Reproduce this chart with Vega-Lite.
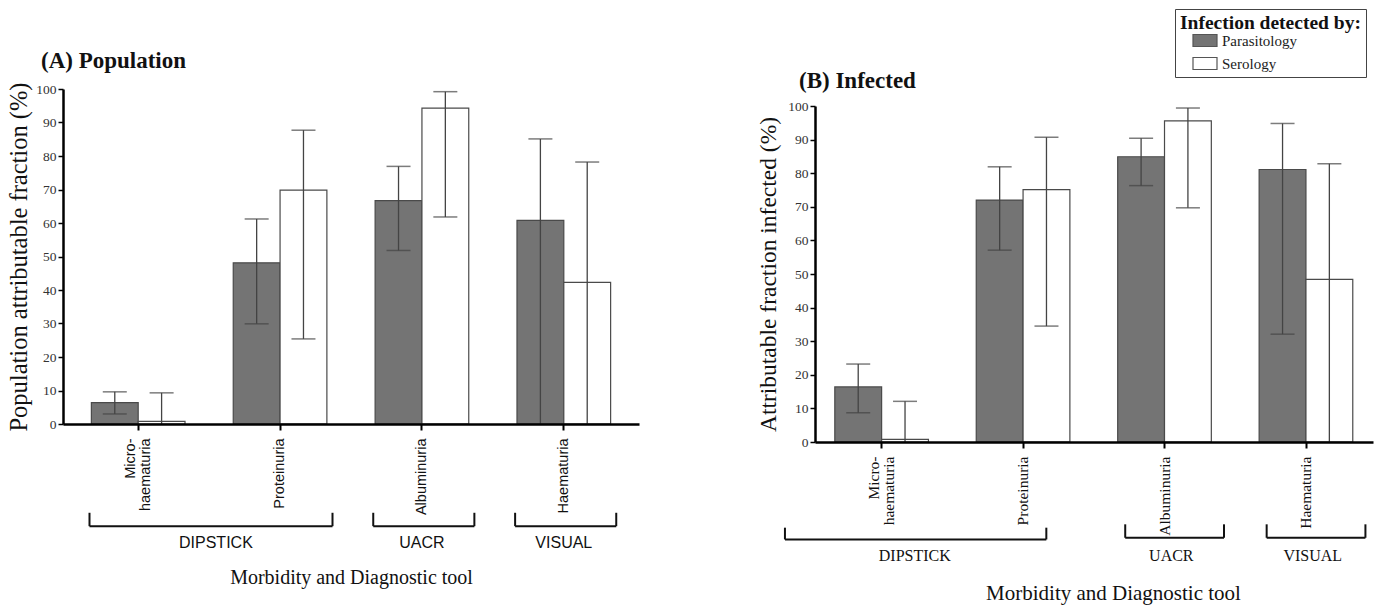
{
  "$schema": "https://vega.github.io/schema/vega-lite/v6.json",
  "padding": {"left": 6, "top": 8, "right": 2, "bottom": 2},
  "background": "white",
  "spacing": 117,
  "datasets": {
    "barsA": [
      {"category": "Micro-haematuria", "method": "Parasitology", "value": 6.4, "lo": 3.0, "hi": 9.6},
      {"category": "Micro-haematuria", "method": "Serology", "value": 0.8, "lo": 0, "hi": 9.3},
      {"category": "Proteinuria", "method": "Parasitology", "value": 48.1, "lo": 29.9, "hi": 61.2},
      {"category": "Proteinuria", "method": "Serology", "value": 69.8, "lo": 25.4, "hi": 87.7},
      {"category": "Albuminuria", "method": "Parasitology", "value": 66.7, "lo": 51.8, "hi": 76.9},
      {"category": "Albuminuria", "method": "Serology", "value": 94.3, "lo": 61.8, "hi": 99.2},
      {"category": "Haematuria", "method": "Parasitology", "value": 60.8, "lo": 0, "hi": 85.1},
      {"category": "Haematuria", "method": "Serology", "value": 42.3, "lo": 0, "hi": 78.2}
    ],
    "barsB": [
      {"category": "Micro-haematuria", "method": "Parasitology", "value": 16.4, "lo": 8.7, "hi": 23.2},
      {"category": "Micro-haematuria", "method": "Serology", "value": 0.8, "lo": 0, "hi": 12.1},
      {"category": "Proteinuria", "method": "Parasitology", "value": 72.0, "lo": 57.1, "hi": 81.9},
      {"category": "Proteinuria", "method": "Serology", "value": 75.1, "lo": 34.5, "hi": 90.7},
      {"category": "Albuminuria", "method": "Parasitology", "value": 84.9, "lo": 76.3, "hi": 90.4},
      {"category": "Albuminuria", "method": "Serology", "value": 95.6, "lo": 69.7, "hi": 99.4},
      {"category": "Haematuria", "method": "Parasitology", "value": 81.1, "lo": 32.1, "hi": 94.8},
      {"category": "Haematuria", "method": "Serology", "value": 48.4, "lo": 0, "hi": 82.8}
    ],
    "groups": [
      {"group": "DIPSTICK", "from": "Micro-haematuria", "to": "Proteinuria"},
      {"group": "UACR", "from": "Albuminuria", "to": "Albuminuria"},
      {"group": "VISUAL", "from": "Haematuria", "to": "Haematuria"}
    ]
  },
  "hconcat": [
    {
      "width": 576,
      "height": 335,
      "title": {"text": "(A) Population", "anchor": "start", "frame": "group", "dx": -22, "offset": 9, "font": "Liberation Serif", "fontSize": 23, "fontWeight": "bold", "color": "#111"},
      "layer": [
        {
          "data": {"name": "barsA"},
          "mark": {"type": "bar", "stroke": "#4a4a4a", "strokeWidth": 1.2},
          "encoding": {
            "x": {"field": "category", "type": "nominal", "scale": {"domain": ["Micro-haematuria", "Proteinuria", "Albuminuria", "Haematuria"], "paddingInner": 0.34, "paddingOuter": 0.2}, "title": "Morbidity and Diagnostic tool",
              "axis": {"labelAngle": -90, "labelFont": "Liberation Sans", "labelFontSize": 14.5, "labelColor": "#111", "labelPadding": 8, "labelLineHeight": 15, "labelBaseline": {"condition": {"test": "datum.value == 'Micro-haematuria'", "value": "bottom"}, "value": "middle"}, "labelExpr": "datum.value == 'Micro-haematuria' ? ['Micro-', 'haematuria'] : datum.value", "tickSize": 6, "tickWidth": 2, "tickColor": "#000", "domainWidth": 2.5, "domainColor": "#000", "titleFont": "Liberation Serif", "titleFontSize": 20, "titleFontWeight": "normal", "titleColor": "#111", "titlePadding": 53, "zindex": 1}},
            "xOffset": {"field": "method", "type": "nominal", "scale": {"paddingInner": 0, "paddingOuter": 0}},
            "y": {"field": "value", "type": "quantitative", "scale": {"domain": [0, 100]}, "title": "Population attributable fraction (%)",
              "axis": {"values": [0, 10, 20, 30, 40, 50, 60, 70, 80, 90, 100], "tickCount": 11, "labelOverlap": false, "grid": false, "tickSize": 5, "tickWidth": 1.5, "tickColor": "#000", "labelFont": "Liberation Serif", "labelFontSize": 13.5, "labelColor": "#333", "labelPadding": 2, "domainWidth": 2.5, "domainColor": "#000", "titleFont": "Liberation Serif", "titleFontSize": 24.5, "titleFontWeight": "normal", "titleColor": "#111", "titlePadding": 4, "zindex": 1}},
            "fill": {"field": "method", "type": "nominal", "scale": {"domain": ["Parasitology", "Serology"], "range": ["#747474", "#ffffff"]}, "title": "Infection detected by:"}
          }
        },
        {
          "data": {"name": "barsA"},
          "mark": {"type": "rule", "color": "#444", "strokeWidth": 1.3},
          "encoding": {
            "x": {"field": "category", "type": "nominal", "title": "Morbidity and Diagnostic tool"},
            "xOffset": {"field": "method", "type": "nominal"},
            "y": {"field": "lo", "type": "quantitative", "title": "Population attributable fraction (%)"},
            "y2": {"field": "hi"}
          }
        },
        {
          "data": {"name": "barsA"},
          "mark": {"type": "tick", "color": "#444", "size": 24, "thickness": 1.5},
          "encoding": {
            "x": {"field": "category", "type": "nominal", "title": "Morbidity and Diagnostic tool"},
            "xOffset": {"field": "method", "type": "nominal"},
            "y": {"field": "hi", "type": "quantitative", "title": "Population attributable fraction (%)"}
          }
        },
        {
          "data": {"name": "barsA"},
          "transform": [{"filter": "datum.lo > 0"}],
          "mark": {"type": "tick", "color": "#444", "size": 24, "thickness": 1.5},
          "encoding": {
            "x": {"field": "category", "type": "nominal", "title": "Morbidity and Diagnostic tool"},
            "xOffset": {"field": "method", "type": "nominal"},
            "y": {"field": "lo", "type": "quantitative", "title": "Population attributable fraction (%)"}
          }
        },
        {
          "data": {"name": "groups"},
          "mark": {"type": "rule", "color": "#111", "strokeWidth": 2},
          "encoding": {
            "x": {"field": "from", "type": "nominal", "bandPosition": -0.02, "title": "Morbidity and Diagnostic tool"},
            "x2": {"field": "to", "bandPosition": 1.06},
            "y": {"datum": -30.5, "type": "quantitative", "title": "Population attributable fraction (%)"}
          }
        },
        {
          "data": {"name": "groups"},
          "mark": {"type": "rule", "color": "#111", "strokeWidth": 2},
          "encoding": {
            "x": {"field": "from", "type": "nominal", "bandPosition": -0.02, "title": "Morbidity and Diagnostic tool"},
            "y": {"datum": -30.5, "type": "quantitative", "title": "Population attributable fraction (%)"},
            "y2": {"datum": -26.5}
          }
        },
        {
          "data": {"name": "groups"},
          "mark": {"type": "rule", "color": "#111", "strokeWidth": 2},
          "encoding": {
            "x": {"field": "to", "type": "nominal", "bandPosition": 1.06, "title": "Morbidity and Diagnostic tool"},
            "y": {"datum": -30.5, "type": "quantitative", "title": "Population attributable fraction (%)"},
            "y2": {"datum": -26.5}
          }
        },
        {
          "data": {"name": "groups"},
          "transform": [{"filter": "datum.group == 'DIPSTICK'"}],
          "mark": {"type": "text", "font": "Liberation Sans", "fontSize": 16, "color": "#111", "baseline": "middle", "align": "center"},
          "encoding": {
            "x": {"field": "from", "type": "nominal", "bandPosition": 1.33, "title": "Morbidity and Diagnostic tool"},
            "y": {"datum": -35.5, "type": "quantitative", "title": "Population attributable fraction (%)"},
            "text": {"field": "group"}
          }
        },
        {
          "data": {"name": "groups"},
          "transform": [{"filter": "datum.group != 'DIPSTICK'"}],
          "mark": {"type": "text", "font": "Liberation Sans", "fontSize": 16, "color": "#111", "baseline": "middle", "align": "center"},
          "encoding": {
            "x": {"field": "from", "type": "nominal", "bandPosition": 0.5, "title": "Morbidity and Diagnostic tool"},
            "y": {"datum": -35.5, "type": "quantitative", "title": "Population attributable fraction (%)"},
            "text": {"field": "group"}
          }
        }
      ]
    },
    {
      "width": 558,
      "height": 353,
      "title": {"text": "(B) Infected", "anchor": "start", "frame": "group", "dx": -16, "dy": 4, "offset": 0, "font": "Liberation Serif", "fontSize": 23, "fontWeight": "bold", "color": "#111"},
      "layer": [
        {
          "data": {"name": "barsB"},
          "mark": {"type": "bar", "stroke": "#4a4a4a", "strokeWidth": 1.2},
          "encoding": {
            "x": {"field": "category", "type": "nominal", "scale": {"domain": ["Micro-haematuria", "Proteinuria", "Albuminuria", "Haematuria"], "paddingInner": 0.335, "paddingOuter": 0.14}, "title": "Morbidity and Diagnostic tool",
              "axis": {"labelAngle": -90, "labelFont": "Liberation Serif", "labelFontSize": 15.5, "labelColor": "#111", "labelPadding": 8, "labelLineHeight": 15, "labelBaseline": {"condition": {"test": "datum.value == 'Micro-haematuria'", "value": "bottom"}, "value": "middle"}, "labelExpr": "datum.value == 'Micro-haematuria' ? ['Micro-', 'haematuria'] : datum.value", "tickSize": 6, "tickWidth": 2, "tickColor": "#000", "domainWidth": 2.5, "domainColor": "#000", "titleFont": "Liberation Serif", "titleFontSize": 21, "titleFontWeight": "normal", "titleColor": "#111", "titlePadding": 47, "titleX": 298, "zindex": 1}},
            "xOffset": {"field": "method", "type": "nominal", "scale": {"paddingInner": 0, "paddingOuter": 0}},
            "y": {"field": "value", "type": "quantitative", "scale": {"domain": [0, 100], "range": [353, 17]}, "title": "Attributable fraction infected (%)",
              "axis": {"values": [0, 10, 20, 30, 40, 50, 60, 70, 80, 90, 100], "tickCount": 11, "labelOverlap": false, "grid": false, "tickSize": 5, "tickWidth": 1.5, "tickColor": "#000", "labelFont": "Liberation Serif", "labelFontSize": 13.5, "labelColor": "#333", "labelPadding": 2, "domainWidth": 2.5, "domainColor": "#000", "titleFont": "Liberation Serif", "titleFontSize": 23.5, "titleFontWeight": "normal", "titleColor": "#111", "titlePadding": 7, "zindex": 1}},
            "fill": {"field": "method", "type": "nominal", "scale": {"domain": ["Parasitology", "Serology"], "range": ["#747474", "#ffffff"]}, "title": "Infection detected by:"}
          }
        },
        {
          "data": {"name": "barsB"},
          "mark": {"type": "rule", "color": "#444", "strokeWidth": 1.3},
          "encoding": {
            "x": {"field": "category", "type": "nominal", "title": "Morbidity and Diagnostic tool"},
            "xOffset": {"field": "method", "type": "nominal"},
            "y": {"field": "lo", "type": "quantitative", "title": "Attributable fraction infected (%)"},
            "y2": {"field": "hi"}
          }
        },
        {
          "data": {"name": "barsB"},
          "mark": {"type": "tick", "color": "#444", "size": 24, "thickness": 1.5},
          "encoding": {
            "x": {"field": "category", "type": "nominal", "title": "Morbidity and Diagnostic tool"},
            "xOffset": {"field": "method", "type": "nominal"},
            "y": {"field": "hi", "type": "quantitative", "title": "Attributable fraction infected (%)"}
          }
        },
        {
          "data": {"name": "barsB"},
          "transform": [{"filter": "datum.lo > 0"}],
          "mark": {"type": "tick", "color": "#444", "size": 24, "thickness": 1.5},
          "encoding": {
            "x": {"field": "category", "type": "nominal", "title": "Morbidity and Diagnostic tool"},
            "xOffset": {"field": "method", "type": "nominal"},
            "y": {"field": "lo", "type": "quantitative", "title": "Attributable fraction infected (%)"}
          }
        },
        {
          "data": {"name": "groups"},
          "transform": [{"filter": "datum.group == 'DIPSTICK'"}],
          "mark": {"type": "rule", "color": "#111", "strokeWidth": 2},
          "encoding": {
            "x": {"field": "from", "type": "nominal", "bandPosition": -0.53, "title": "Morbidity and Diagnostic tool"},
            "x2": {"field": "to", "bandPosition": 0.745},
            "y": {"datum": -29, "type": "quantitative", "title": "Attributable fraction infected (%)"}
          }
        },
        {
          "data": {"name": "groups"},
          "transform": [{"filter": "datum.group == 'DIPSTICK'"}],
          "mark": {"type": "rule", "color": "#111", "strokeWidth": 2},
          "encoding": {
            "x": {"field": "from", "type": "nominal", "bandPosition": -0.53, "title": "Morbidity and Diagnostic tool"},
            "y": {"datum": -29, "type": "quantitative", "title": "Attributable fraction infected (%)"},
            "y2": {"datum": -25.5}
          }
        },
        {
          "data": {"name": "groups"},
          "transform": [{"filter": "datum.group == 'DIPSTICK'"}],
          "mark": {"type": "rule", "color": "#111", "strokeWidth": 2},
          "encoding": {
            "x": {"field": "to", "type": "nominal", "bandPosition": 0.745, "title": "Morbidity and Diagnostic tool"},
            "y": {"datum": -29, "type": "quantitative", "title": "Attributable fraction infected (%)"},
            "y2": {"datum": -25.5}
          }
        },
        {
          "data": {"name": "groups"},
          "transform": [{"filter": "datum.group != 'DIPSTICK'"}],
          "mark": {"type": "rule", "color": "#111", "strokeWidth": 2},
          "encoding": {
            "x": {"field": "from", "type": "nominal", "bandPosition": 0.08, "title": "Morbidity and Diagnostic tool"},
            "x2": {"field": "to", "bandPosition": 1.13},
            "y": {"datum": -28.5, "type": "quantitative", "title": "Attributable fraction infected (%)"}
          }
        },
        {
          "data": {"name": "groups"},
          "transform": [{"filter": "datum.group != 'DIPSTICK'"}],
          "mark": {"type": "rule", "color": "#111", "strokeWidth": 2},
          "encoding": {
            "x": {"field": "from", "type": "nominal", "bandPosition": 0.08, "title": "Morbidity and Diagnostic tool"},
            "y": {"datum": -28.5, "type": "quantitative", "title": "Attributable fraction infected (%)"},
            "y2": {"datum": -24.5}
          }
        },
        {
          "data": {"name": "groups"},
          "transform": [{"filter": "datum.group != 'DIPSTICK'"}],
          "mark": {"type": "rule", "color": "#111", "strokeWidth": 2},
          "encoding": {
            "x": {"field": "to", "type": "nominal", "bandPosition": 1.13, "title": "Morbidity and Diagnostic tool"},
            "y": {"datum": -28.5, "type": "quantitative", "title": "Attributable fraction infected (%)"},
            "y2": {"datum": -24.5}
          }
        },
        {
          "data": {"name": "groups"},
          "transform": [{"filter": "datum.group == 'DIPSTICK'"}],
          "mark": {"type": "text", "font": "Liberation Serif", "fontSize": 16, "color": "#111", "baseline": "middle", "align": "center"},
          "encoding": {
            "x": {"field": "from", "type": "nominal", "bandPosition": 0.85, "title": "Morbidity and Diagnostic tool"},
            "y": {"datum": -34, "type": "quantitative", "title": "Attributable fraction infected (%)"},
            "text": {"field": "group"}
          }
        },
        {
          "data": {"name": "groups"},
          "transform": [{"filter": "datum.group != 'DIPSTICK'"}],
          "mark": {"type": "text", "font": "Liberation Serif", "fontSize": 16, "color": "#111", "baseline": "middle", "align": "center"},
          "encoding": {
            "x": {"field": "from", "type": "nominal", "bandPosition": 0.57, "title": "Morbidity and Diagnostic tool"},
            "y": {"datum": -34, "type": "quantitative", "title": "Attributable fraction infected (%)"},
            "text": {"field": "group"}
          }
        }
      ]
    }
  ],
  "config": {
    "view": {"stroke": null},
    "legend": {
      "orient": "none", "legendX": 1112, "legendY": -80,
      "titleFont": "Liberation Serif", "titleFontSize": 19.5, "titleFontWeight": "bold", "titleColor": "#111", "titlePadding": -6, "titleLimit": 400,
      "labelFont": "Liberation Serif", "labelFontSize": 15, "labelColor": "#222", "labelOffset": 4,
      "symbolType": "M-1,-0.5H1V0.5H-1Z", "symbolSize": 576, "symbolStrokeColor": "#555", "symbolStrokeWidth": 1.2, "symbolOffset": 12,
      "strokeColor": "#444", "fillColor": "white", "padding": 5, "rowPadding": 1
    }
  }
}
